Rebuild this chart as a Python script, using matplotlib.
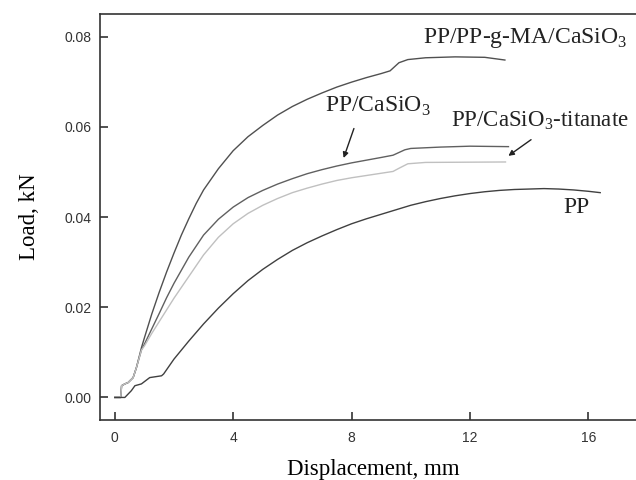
import matplotlib
matplotlib.use("Agg")
import matplotlib.pyplot as plt

plt.rcParams['mathtext.fontset'] = 'custom'
plt.rcParams['mathtext.rm'] = 'Liberation Serif'

# PP/PP-g-MA/CaSiO3
x_ma = [0, 0.2, 0.23, 0.34, 0.45, 0.62, 0.73, 0.9, 1.0, 1.25, 1.5, 1.75, 2.0, 2.25, 2.5,
        2.75, 3.0, 3.5, 4.0, 4.5, 5.0, 5.5, 6.0, 6.5, 7.0, 7.5, 8.0, 8.5, 9.0, 9.3,
        9.6, 9.9, 10.5, 11.5, 12.5, 13.18]
y_ma = [0, 0, 0.0026, 0.003, 0.0033, 0.0044, 0.0066, 0.011, 0.0132, 0.0185, 0.0233,
        0.0278, 0.032, 0.036, 0.0396, 0.043, 0.046, 0.0507, 0.0547, 0.0578, 0.0603,
        0.0626, 0.0645, 0.0661, 0.0675, 0.0688, 0.0699, 0.0709, 0.0718, 0.0724,
        0.0742, 0.0749, 0.0753, 0.0755, 0.0754, 0.0748]

# PP/CaSiO3
x_cs = [0, 0.2, 0.23, 0.34, 0.45, 0.62, 0.73, 0.9, 1.0, 1.25, 1.5, 1.75, 2.0, 2.5, 3.0,
        3.5, 4.0, 4.5, 5.0, 5.5, 6.0, 6.5, 7.0, 7.5, 8.0, 8.5, 9.0, 9.4, 9.6, 9.8,
        10.0, 11.0, 12.0, 13.3]
y_cs = [0, 0, 0.0026, 0.003, 0.0033, 0.0044, 0.0066, 0.0105, 0.0118, 0.0152, 0.0186,
        0.0221, 0.0253, 0.0311, 0.036, 0.0395, 0.0422, 0.0443, 0.0459, 0.0473, 0.0485,
        0.0496, 0.0505, 0.0513, 0.052, 0.0526, 0.0532, 0.0537, 0.0543, 0.0549, 0.0552,
        0.0555, 0.0557, 0.0556]

# PP/CaSiO3-titanate
x_ti = [0, 0.2, 0.23, 0.34, 0.45, 0.62, 0.73, 0.9, 1.0, 1.25, 1.5, 1.75, 2.0, 2.5, 3.0,
        3.5, 4.0, 4.5, 5.0, 5.5, 6.0, 6.5, 7.0, 7.5, 8.0, 8.5, 9.0, 9.4, 9.6, 9.9,
        10.5, 13.2]
y_ti = [0, 0, 0.0026, 0.003, 0.0033, 0.0044, 0.0066, 0.0105, 0.0114, 0.0142, 0.0168,
        0.0194, 0.022, 0.0268, 0.0316, 0.0355, 0.0385, 0.0408, 0.0426, 0.0441, 0.0454,
        0.0464, 0.0473, 0.0481, 0.0487, 0.0492, 0.0497, 0.0501, 0.0508, 0.0518,
        0.0521, 0.0522]

# PP
x_pp = [0, 0.34, 0.56, 0.68, 0.9, 1.18, 1.58, 1.65, 2.0, 2.5, 3.0, 3.5, 4.0, 4.5, 5.0,
        5.5, 6.0, 6.5, 7.0, 7.5, 8.0, 8.5, 9.0, 9.5, 10.0, 10.5, 11.0, 11.5, 12.0, 12.5,
        13.0, 13.5, 14.0, 14.5, 15.0, 15.5, 16.0, 16.4]
y_pp = [0, 0, 0.0015, 0.0026, 0.003, 0.0044, 0.0048, 0.0052, 0.0085, 0.0125, 0.0163,
        0.0198, 0.023, 0.0259, 0.0284, 0.0306, 0.0326, 0.0343, 0.0358, 0.0372, 0.0385,
        0.0396, 0.0406, 0.0416, 0.0426, 0.0434, 0.0441, 0.0447, 0.0452, 0.0456, 0.0459,
        0.0461, 0.0462, 0.0463, 0.0462, 0.046, 0.0457, 0.0454]

x_ticks = [0, 4, 8, 12, 16]
y_ticks = [0.00, 0.02, 0.04, 0.06, 0.08]

fig = plt.figure(figsize=(6.36, 4.8), dpi=100)
ax = fig.add_axes([0.1572, 0.125, 0.861, 0.8458])

ax.plot(x_ma, y_ma, color='#505050', lw=1.0)
ax.plot(x_cs, y_cs, color='#606060', lw=1.0)
ax.plot(x_ti, y_ti, color='#c0c0c0', lw=1.0)
ax.plot(x_pp, y_pp, color='#404040', lw=1.0)

ax.set_xlim(-0.5, 18)
ax.set_ylim(-0.005, 0.085)
ax.set_xticks(x_ticks)
ax.set_yticks(y_ticks)
ax.set_xticklabels([str(t) for t in x_ticks])
ax.set_yticklabels([f"{t:.2f}" for t in y_ticks])

for lab in ax.get_xticklabels() + ax.get_yticklabels():
    lab.set_fontfamily('Liberation Sans')
    lab.set_fontsize(10)
    lab.set_color('#333333')

ax.tick_params(direction='in', length=6, width=1.2, color='#333333')
ax.tick_params(axis='x', pad=8)
ax.tick_params(axis='y', pad=6)
for s in ax.spines.values():
    s.set_linewidth(1.2)
    s.set_color('#333333')

ax.set_xlabel('Displacement, mm', fontfamily='Liberation Serif', fontsize=16.5, labelpad=10)
ax.set_ylabel('Load, kN', fontfamily='Liberation Serif', fontsize=16.5, labelpad=18)

tf = dict(fontfamily='Liberation Serif', fontsize=17, color='#222222', va='center')
ax.text(10.4, 0.0797, r'PP/PP-g-MA/CaSiO$_\mathregular{3}$', **tf)
ax.text(7.1, 0.0646, r'PP/CaSiO$_\mathregular{3}$', **tf)
ax.text(11.35, 0.0613, r'PP/CaSiO$_\mathregular{3}$-titanate',
        **dict(tf, fontsize=16.5))
ax.text(15.16, 0.0421, 'PP', **tf)

arrow = dict(arrowstyle='-|>', color='#222222', lw=1.0, mutation_scale=8)
ax.annotate('', xy=(7.70, 0.0525), xytext=(8.11, 0.0602), arrowprops=arrow)
ax.annotate('', xy=(13.22, 0.0532), xytext=(14.14, 0.0575), arrowprops=arrow)

fig.savefig('out.png', dpi=100)
